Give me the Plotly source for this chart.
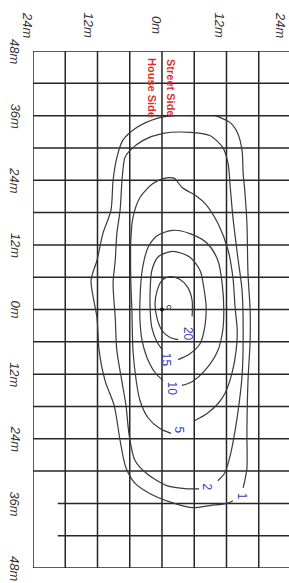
import plotly.graph_objects as go

# ---------------- data (metres) ----------------
h_ticks = [-24, -12, 0, 12, 24]
h_tick_labels = ["24m", "12m", "0m", "12m", "24m"]
v_ticks = [48, 36, 24, 12, 0, -12, -24, -36, -48]
v_tick_labels = ["48m", "36m", "24m", "12m", "0m", "12m", "24m", "36m", "48m"]

grid_h = [-24, -18, -12, -6, 0, 6, 12, 18, 24]
grid_v = [48, 42, 36, 30, 24, 18, 12, 6, 0, -6, -12, -18, -24, -30, -36, -42, -48]

levels = [1, 2, 5, 10, 15, 20]

iso1_h = [13.2, 12.1, 8.9, 5.8, 2.0, -2.2, -5.0, -6.7, -7.8, -8.9, -10.6, -11.7, -12.1, -13.2,
          -12.1, -11.0, -9.5, -9.1, -8.4, -7.3, -4.7, -0.9, 2.4, 5.2, None,
          9.9, 12.7, 14.1, 14.9, 15.1, 15.4, 15.8, 16.0, 16.4, 16.4, 16.0, 15.8, 15.8, 15.4, 15.1]
iso1_v = [-35.5, -36.0, -36.4, -36.8, -35.9, -34.2, -32.3, -29.4, -24.3, -17.8, -13.2, -7.6, -1.5, 5.4,
          9.1, 14.1, 18.4, 24.0, 28.2, 31.4, 33.8, 35.5, 36.0, 36.0, None,
          36.0, 34.7, 32.7, 29.5, 25.3, 22.1, 16.0, 6.7, -0.2, -5.8, -13.2, -22.5, -29.4, -31.8, -33.1]

iso2_h = [10.4, 11.7, 12.7, 13.6, 14.3, 14.9, 15.1, 14.9, 14.1, 13.2, 12.7, 12.3, 11.3, 8.9, 5.2, 0.2,
          -3.5, -6.0, -6.9, -7.4, -7.8, -8.4, -8.7, -9.1, -8.7, -8.4, -7.4, -6.7, -6.1, -5.0, -2.8,
          0.9, 4.7, 6.9]
iso2_v = [-31.8, -30.3, -27.1, -22.5, -17.8, -12.3, -5.8, 3.5, 9.7, 17.1, 22.7, 27.1, 30.1, 32.3, 32.9, 32.7,
          31.4, 29.5, 28.2, 24.5, 18.4, 14.1, 9.1, 4.8, -1.5, -7.6, -13.7, -17.8, -23.4, -28.1, -30.5,
          -32.7, -33.3, -33.3]

iso5_h = [6.1, 8.4, 10.4, 11.7, 13.0, 13.8, 14.0, 13.6, 13.2, 12.3, 10.4, 8.0, 6.5, 3.7, 2.4, 1.5, 0.2,
          -1.7, -4.1, -5.4, -5.8, -5.8, -5.6, -5.4, -4.8, -4.1, -2.6, -0.4, 1.7]
iso5_v = [-20.6, -19.3, -17.5, -15.6, -11.9, -7.6, -3.9, 0.4, 5.9, 11.0, 16.0, 19.7, 21.0, 22.7, 24.3, 24.5, 24.3,
          23.4, 20.8, 17.1, 12.8, 5.4, -0.2, -7.6, -13.2, -16.9, -20.1, -22.1, -23.0]

iso10_h = [3.7, 5.6, 8.0, 10.4, 11.3, 11.5, 11.2, 10.4, 8.4, 5.2, 2.0, -0.9, -2.6, -3.7, -4.1, -4.1,
           -3.7, -2.8, -1.3, 0.2]
iso10_v = [-14.1, -13.4, -11.3, -7.6, -3.9, -0.2, 4.8, 9.1, 12.3, 14.1, 14.7, 13.7, 11.5, 7.2, 1.7, -2.0,
           -5.8, -8.9, -11.7, -13.2]

iso15_h = [3.0, 5.2, 7.1, 8.0, 8.2, 7.8, 7.1, 5.2, 2.0, -0.7, -1.9, -2.2, -2.2, -1.9, -0.9, 0.0]
iso15_v = [-9.3, -8.2, -6.3, -3.0, 0.7, 3.9, 7.2, 9.7, 10.8, 9.8, 7.2, 3.5, -0.2, -3.3, -6.1, -7.4]

iso20_h = [5.6, 5.6, 4.8, 3.3, 1.5, 0.0, -0.9, -1.3, -0.9, 0.0, 1.5, 3.0]
iso20_v = [-1.3, 1.7, 4.1, 5.6, 6.1, 5.4, 3.5, 1.1, -1.7, -3.9, -5.2, -5.6]

label_h = [14.9, 8.4, 3.2, 1.9, 0.9, 4.8]
label_v = [-34.6, -32.9, -22.3, -14.7, -9.3, -4.5]

pole_h, pole_v = [0.0], [0.0]
peak_h, peak_v = [1.3], [0.4]

side_labels = ["House Side", "Street Side"]

# ---------------- figure ----------------
x_min, x_max = -24, 23.63
y_min, y_max = -48, 48

fig = go.Figure()

iso_h = [iso1_h, iso2_h, iso5_h, iso10_h, iso15_h, iso20_h]
iso_v = [iso1_v, iso2_v, iso5_v, iso10_v, iso15_v, iso20_v]
for lev, hh, vv in zip(levels, iso_h, iso_v):
    fig.add_trace(go.Scatter(x=hh, y=vv, mode="lines", name=str(lev),
                             line=dict(color="#3a3a3a", width=1.2, shape="spline", smoothing=0.8),
                             connectgaps=False, hoverinfo="skip", showlegend=False))

fig.add_trace(go.Scatter(x=pole_h, y=pole_v, mode="markers",
                         marker=dict(color="#111", size=4), showlegend=False, hoverinfo="skip"))
fig.add_trace(go.Scatter(x=peak_h, y=peak_v, mode="markers",
                         marker=dict(color="#444", size=4, symbol="circle-open", line=dict(width=1)),
                         showlegend=False, hoverinfo="skip"))

# grid
grid_color = "#262626"
short_rows = [-36, -42]
for gh in grid_h:
    if x_min <= gh <= x_max:
        fig.add_shape(type="line", xref="x", yref="y", x0=gh, x1=gh, y0=y_min, y1=y_max,
                      line=dict(color=grid_color, width=1.5), layer="below")
for gv in grid_v:
    x_start = -19.4 if gv in short_rows else x_min
    fig.add_shape(type="line", xref="x", yref="y", x0=x_start, x1=x_max + 1, y0=gv, y1=gv,
                  line=dict(color=grid_color, width=1.5), layer="below")

axis_font = dict(family="Liberation Sans", size=13, color="#333333")
top_shifts = [-5, -8, -5, -6, -10]
for t, lab, xs in zip(h_ticks, h_tick_labels, top_shifts):
    fig.add_annotation(x=(t - x_min) / (x_max - x_min), y=1, xref="paper", yref="paper",
                       text="<i>%s</i>" % lab, showarrow=False, textangle=90,
                       xanchor="center", yanchor="middle", xshift=xs, yshift=26, font=axis_font)
for t, lab in zip(v_ticks, v_tick_labels):
    fig.add_annotation(x=0, y=t, xref="paper", yref="y",
                       text="<i>%s</i>" % lab, showarrow=False, textangle=90,
                       xanchor="center", yanchor="middle", xshift=-18, font=axis_font)

for lev, lh, lv in zip(levels, label_h, label_v):
    fig.add_annotation(x=lh, y=lv, xref="x", yref="y", text=str(lev), showarrow=False,
                       textangle=90, xanchor="center", yanchor="middle",
                       font=dict(family="Liberation Sans", size=12, color="#3b3bc0"))

for lab, xs in zip(side_labels, [-10, 9]):
    fig.add_annotation(x=0, y=48, xref="x", yref="y", text="<b>%s</b>" % lab, showarrow=False,
                       textangle=90, xanchor="center", yanchor="middle", xshift=xs, yshift=-37,
                       font=dict(family="Liberation Sans", size=11, color="#d7302c"))

fig.update_layout(
    width=289, height=583,
    margin=dict(l=33, r=0, t=51, b=15),
    paper_bgcolor="white", plot_bgcolor="white",
    xaxis=dict(range=[x_min, x_max], visible=False, fixedrange=True),
    yaxis=dict(range=[y_min, y_max], visible=False, fixedrange=True),
    showlegend=False,
)

fig.write_html("out.html", config={"displayModeBar": False},
               post_script="document.body.style.margin='0';")
